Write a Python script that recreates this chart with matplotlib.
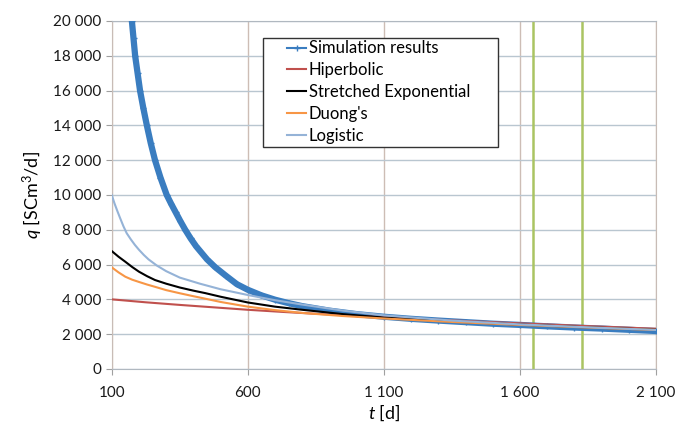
import matplotlib
matplotlib.use("Agg")
import matplotlib.pyplot as plt
from matplotlib.patches import Rectangle
from matplotlib.ticker import FuncFormatter

plt.rcParams['font.family'] = ['Lato', 'DejaVu Sans']
plt.rcParams['mathtext.fontset'] = 'custom'
plt.rcParams['mathtext.rm'] = 'Lato'
plt.rcParams['mathtext.it'] = 'Lato:italic'

# simulation results
sim_t = [174, 180, 186, 195, 204, 216, 229, 243, 259, 279, 302, 318, 335, 352,
         370, 390, 410, 450, 480, 520, 560, 600, 650, 700, 750, 800, 900,
         1000, 1100, 1200, 1300, 1400, 1500, 1600, 1700, 1800, 1900, 2000, 2100]
sim_q = [20000, 19000, 18000, 17000, 16000, 15000, 14000, 13000, 12000, 11000,
         10000, 9500, 9000, 8500, 8000, 7500, 7050, 6300, 5850, 5350, 4870,
         4550, 4230, 3980, 3780, 3610, 3350, 3150, 3000, 2880, 2780, 2690, 2600,
         2530, 2450, 2380, 2320, 2250, 2180]

hyp_t = [100, 225, 350, 475, 600, 725, 850, 975, 1100, 1350, 1600, 1850, 2100]
hyp_q = [4000, 3830, 3680, 3540, 3400, 3280, 3170, 3070, 2970, 2790, 2620, 2460, 2310]

sexp_t = [100, 125, 150, 175, 200, 230, 259, 300, 350, 400, 443, 500, 600, 700,
          800, 950, 1100, 1350, 1600, 1850, 2100]
sexp_q = [6775, 6450, 6160, 5860, 5590, 5330, 5110, 4900, 4680, 4500, 4360, 4150,
          3820, 3580, 3400, 3150, 2950, 2730, 2550, 2390, 2250]

duong_t = [100, 125, 150, 175, 200, 230, 259, 300, 350, 400, 440, 500, 600, 700,
           800, 950, 1100, 1350, 1600, 1850, 2100]
duong_q = [5840, 5550, 5300, 5130, 5000, 4850, 4720, 4530, 4350, 4180, 4050, 3850,
           3580, 3380, 3220, 3040, 2900, 2700, 2530, 2380, 2240]

logi_t = [100, 110, 120, 130, 143, 155, 170, 185, 200, 218, 235, 265, 300, 350,
          424, 500, 600, 700, 800, 950, 1100, 1350, 1600, 1850, 2100]
logi_q = [10000, 9520, 9100, 8700, 8200, 7800, 7450, 7130, 6850, 6550, 6300, 5950,
          5620, 5250, 4900, 4580, 4250, 3950, 3700, 3350, 3080, 2780, 2560, 2390, 2240]

markers_t = [1648, 1828]  # green vertical lines

fig = plt.figure(figsize=(6.91, 4.28), dpi=100)
ax = fig.add_axes([0.1617, 0.138, 0.7877, 0.813])

ax.plot(sim_t, sim_q, color='#3A7DC0', lw=4.5, marker='+', ms=4, mew=1,
        label='Simulation results', zorder=3)
ax.plot(hyp_t, hyp_q, color='#C0504D', lw=1.5, label='Hiperbolic', zorder=4)
ax.plot(sexp_t, sexp_q, color='black', lw=1.5, label='Stretched Exponential', zorder=4)
ax.plot(duong_t, duong_q, color='#F79646', lw=1.5, label="Duong's", zorder=4)
ax.plot(logi_t, logi_q, color='#95B3D7', lw=1.5, label='Logistic', zorder=4)

for t in markers_t:
    ax.axvline(t, color='#AAC462', lw=1.8, zorder=2)

ax.set_xlim(100, 2100)
ax.set_ylim(0, 20000)
ax.set_xticks([100, 600, 1100, 1600, 2100])
ax.set_yticks(range(0, 20001, 2000))
fmt = FuncFormatter(lambda v, p: f'{int(v):,}'.replace(',', ' '))
ax.xaxis.set_major_formatter(fmt)
ax.yaxis.set_major_formatter(fmt)
ax.tick_params(labelsize=11, length=4, color='#A0A0A0', colors='#1a1a1a')
ax.tick_params(axis='x', pad=8)

ax.grid(axis='x', color='#CDBDB5', lw=1)
ax.grid(axis='y', color='#B9C6D0', lw=1)
ax.set_axisbelow(True)
for side in ['top', 'bottom']:
    ax.spines[side].set_color('#B0B8C0')
for side in ['left', 'right']:
    ax.spines[side].set_color('#C8BCB6')

ax.set_xlabel(r'$t$ [d]', fontsize=13, labelpad=2)
ax.set_ylabel(r'$q$ [SCm$^3$/d]', fontsize=13, labelpad=6)

# legend box drawn separately, like the Excel one
ax.add_patch(Rectangle((0.278, 0.638), 0.432, 0.313, transform=ax.transAxes,
                       facecolor='white', edgecolor='#333333', lw=1, zorder=5))
leg = ax.legend(loc='upper left', bbox_to_anchor=(0.322, 0.944), fontsize=12,
                frameon=False, handlelength=1.15, handletextpad=0.15,
                labelspacing=0.35, borderpad=0, borderaxespad=0)
leg.set_zorder(6)
for h in leg.legend_handles:
    h.set_linewidth(1.5)

fig.savefig('out.png', dpi=100)
